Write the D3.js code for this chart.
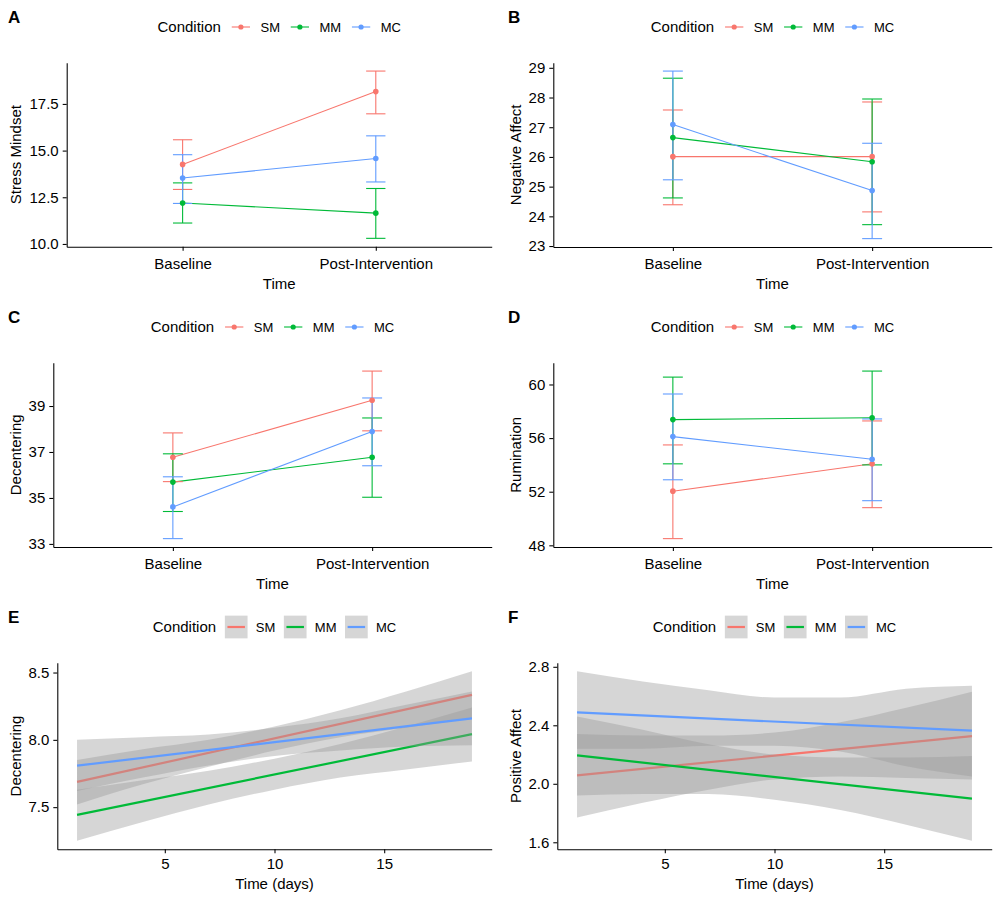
<!DOCTYPE html>
<html><head><meta charset="utf-8">
<script src="https://cdn.jsdelivr.net/npm/d3@7"></script>
<style>
body{margin:0;background:#fff}
text{font-family:"Liberation Sans",Arial,Helvetica,sans-serif;fill:#000}
</style>
</head><body>
<svg id="chart" width="1000" height="900"></svg>
<script>
// ---------------- DATA ----------------
const conditions = ["SM", "MM", "MC"];
const timeLabels = ["Baseline", "Post-Intervention"];

// Panel A: Stress Mindset (rows: SM, MM, MC; cols: Baseline, Post)
const stressMean  = [[14.26, 18.16], [12.19, 11.65], [13.53, 14.58]];
const stressLower = [[12.92, 16.97], [11.12, 10.30], [12.17, 13.32]];
const stressUpper = [[15.58, 19.26], [13.27, 12.97], [14.78, 15.79]];
const stressTicks = [10, 12.5, 15, 17.5];

// Panel B: Negative Affect
const negMean  = [[26.01, 26.01], [26.65, 25.84], [27.09, 24.87]];
const negLower = [[24.39, 24.15], [24.62, 23.72], [25.23, 23.25]];
const negUpper = [[27.58, 27.85], [28.65, 27.95], [28.89, 26.46]];
const negTicks = [23, 24, 25, 26, 27, 28, 29];

// Panel C: Decentering
const decMean  = [[36.77, 39.25], [35.69, 36.77], [34.61, 37.89]];
const decLower = [[35.71, 37.92], [34.41, 35.03], [33.23, 36.40]];
const decUpper = [[37.83, 40.52], [36.92, 38.48], [35.92, 39.35]];
const decTicks = [33, 35, 37, 39];

// Panel D: Rumination
const rumMean  = [[52.04, 54.08], [57.38, 57.52], [56.11, 54.42]];
const rumLower = [[48.50, 50.81], [54.08, 54.00], [52.89, 51.33]];
const rumUpper = [[55.49, 57.28], [60.55, 61.00], [59.29, 57.43]];
const rumTicks = [48, 52, 56, 60];

// Panels E/F: daily trajectories
const lineDays = [1, 19];
const ribbonDays = [1, 4, 7, 10, 13, 16, 19];
const dayTicks = [5, 10, 15];

// E: Decentering (daily)
const eLine  = [[7.688, 8.334], [7.443, 8.042], [7.808, 8.159]];
const eLower = [[7.52, 7.67, 7.80, 7.92, 8.02, 8.09, 8.16],
                [7.25, 7.39, 7.52, 7.63, 7.72, 7.78, 7.84],
                [7.62, 7.72, 7.81, 7.88, 7.92, 7.95, 7.96]];
const eUpper = [[7.85, 7.93, 8.00, 8.10, 8.22, 8.36, 8.51],
                [7.63, 7.70, 7.77, 7.86, 7.97, 8.10, 8.24],
                [8.00, 8.02, 8.04, 8.09, 8.16, 8.26, 8.36]];
const eTicks = [7.5, 8.0, 8.5];

// F: Positive Affect (daily)
const fLine  = [[2.058, 2.326], [2.194, 1.898], [2.488, 2.363]];
const fLower = [[1.77, 1.87, 1.96, 2.03, 2.05, 2.04, 2.03],
                [1.92, 1.93, 1.93, 1.89, 1.82, 1.72, 1.61],
                [2.24, 2.24, 2.26, 2.26, 2.22, 2.12, 2.05]];
const fUpper = [[2.34, 2.33, 2.33, 2.35, 2.42, 2.52, 2.63],
                [2.46, 2.37, 2.27, 2.20, 2.18, 2.18, 2.19],
                [2.77, 2.70, 2.64, 2.59, 2.59, 2.65, 2.67]];
const fTicks = [1.6, 2.0, 2.4, 2.8];

// ---------------- STYLE ----------------
const palette = ["#F8766D", "#00BA38", "#619CFF"];
const FS = 15;          // axis text & titles
const FS_LEG = 13;      // legend labels
const svg = d3.select("#chart");

function expand(vals) {
  const [a, b] = d3.extent(vals);
  const p = (b - a) * 0.05;
  return [a - p, b + p];
}

function drawLegend(g, cx, cy, kind) {
  const lg = g.append("g");
  let x = 0;
  const t = lg.append("text").attr("x", x).attr("y", cy).attr("dy", "0.35em")
    .style("font-size", FS + "px").text("Condition");
  x += t.node().getComputedTextLength() + 8.7;
  const K = 22.7;
  conditions.forEach((c, i) => {
    if (kind === "ribbon") {
      lg.append("rect").attr("x", x).attr("y", cy - K / 2).attr("width", K).attr("height", K)
        .attr("fill", "#999999").attr("fill-opacity", 0.4);
      lg.append("line").attr("x1", x + 2.6).attr("x2", x + K - 2.6).attr("y1", cy).attr("y2", cy)
        .attr("stroke", palette[i]).attr("stroke-width", 2.2);
    } else {
      lg.append("line").attr("x1", x + 2.2).attr("x2", x + K - 2.2).attr("y1", cy).attr("y2", cy)
        .attr("stroke", palette[i]).attr("stroke-width", 1.1);
      lg.append("circle").attr("cx", x + K / 2).attr("cy", cy).attr("r", 2.6).attr("fill", palette[i]);
    }
    x += K + 8.3;
    const lt = lg.append("text").attr("x", x).attr("y", cy).attr("dy", "0.35em")
      .style("font-size", FS_LEG + "px").text(c);
    x += lt.node().getComputedTextLength() + 8.5;
  });
  const total = x - 8.5;
  lg.attr("transform", `translate(${cx - total / 2},0)`);
}

function styleAxis(ag) {
  ag.select(".domain").attr("stroke", "#000").attr("stroke-width", 1.07);
  ag.selectAll(".tick line").attr("stroke", "#000").attr("stroke-width", 1.07);
  ag.selectAll(".tick text").style("font-size", FS + "px").attr("fill", "#000")
    .style("font-family", '"Liberation Sans",Arial,sans-serif');
}

function frame(p) {
  const g = svg.append("g").attr("transform", `translate(${p.ox},${p.oy})`);
  g.append("text").attr("x", 8).attr("y", 23).style("font-size", "17px")
    .style("font-weight", "bold").text(p.tag);
  const right = 491.7;
  drawLegend(g, (p.left + right) / 2, 27, p.kind);
  // y-axis title
  g.append("text").attr("transform", `translate(21,${(p.top + p.bottom) / 2}) rotate(-90)`)
    .attr("text-anchor", "middle").style("font-size", FS + "px").text(p.ylab);
  // x-axis title
  g.append("text").attr("x", (p.left + right) / 2).attr("y", 288.7)
    .attr("text-anchor", "middle").style("font-size", FS + "px").text(p.xlab);
  return {g, right};
}

function drawAxes(g, x, y, p, yTicks, yFmt, xTicks) {
  const pad = 269.3 - p.bottom - 0.71 * FS - 4;
  const xa = d3.axisBottom(x).tickSize(4).tickSizeOuter(0).tickPadding(pad);
  if (xTicks) xa.tickValues(xTicks).tickFormat(d3.format("d"));
  const xg = g.append("g").attr("transform", `translate(0,${p.bottom})`).call(xa);
  styleAxis(xg);
  const ya = d3.axisLeft(y).tickValues(yTicks).tickFormat(d3.format(yFmt))
    .tickSize(4).tickSizeOuter(0).tickPadding(4);
  const yg = g.append("g").attr("transform", `translate(${p.left},0)`).call(ya);
  styleAxis(yg);
}

// ---------- Panels A-D: means with error bars ----------
function meanPanel(p) {
  const {g, right} = frame(p);
  const x = d3.scalePoint().domain(timeLabels).range([p.left, right]).padding(0.6);
  const y = d3.scaleLinear().domain(expand(p.lower.flat().concat(p.upper.flat())))
    .range([p.bottom, p.top]);
  const cap = x.step() * 0.05;
  const lineGen = d3.line().x((d, j) => x(timeLabels[j])).y(d => y(d));
  conditions.forEach((c, i) => {
    g.append("path").datum(p.mean[i]).attr("d", lineGen).attr("fill", "none")
      .attr("stroke", palette[i]).attr("stroke-width", 1.1);
  });
  conditions.forEach((c, i) => {
    timeLabels.forEach((t, j) => {
      const cx = x(t), lo = y(p.lower[i][j]), hi = y(p.upper[i][j]);
      const eb = g.append("g").attr("stroke", palette[i]).attr("stroke-width", 1.1);
      eb.append("line").attr("x1", cx).attr("x2", cx).attr("y1", lo).attr("y2", hi);
      eb.append("line").attr("x1", cx - cap).attr("x2", cx + cap).attr("y1", lo).attr("y2", lo);
      eb.append("line").attr("x1", cx - cap).attr("x2", cx + cap).attr("y1", hi).attr("y2", hi);
    });
  });
  conditions.forEach((c, i) => {
    g.selectAll(null).data(p.mean[i]).enter().append("circle")
      .attr("cx", (d, j) => x(timeLabels[j])).attr("cy", d => y(d)).attr("r", 2.8)
      .attr("fill", palette[i]);
  });
  drawAxes(g, x, y, p, p.ticks, p.fmt, null);
}

// ---------- Panels E-F: trajectories with ribbons ----------
function trendPanel(p) {
  const {g, right} = frame(p);
  const x = d3.scaleLinear().domain(expand(ribbonDays)).range([p.left, right]);
  const y = d3.scaleLinear().domain(expand(p.lower.flat().concat(p.upper.flat())))
    .range([p.bottom, p.top]);
  const area = d3.area().curve(d3.curveMonotoneX)
    .x(d => x(d.day)).y0(d => y(d.lo)).y1(d => y(d.hi));
  const line = d3.line().x((d, j) => x(lineDays[j])).y(d => y(d));
  conditions.forEach((c, i) => {
    const rib = ribbonDays.map((dday, j) => ({day: dday, lo: p.lower[i][j], hi: p.upper[i][j]}));
    g.append("path").datum(rib).attr("d", area).attr("fill", "#999999").attr("fill-opacity", 0.4);
    g.append("path").datum(p.line[i]).attr("d", line).attr("fill", "none")
      .attr("stroke", palette[i]).attr("stroke-width", 2.2);
  });
  drawAxes(g, x, y, p, p.ticks, p.fmt, dayTicks);
}

meanPanel({tag: "A", ox: 0, oy: 0, left: 66.7, top: 62.7, bottom: 246.7, kind: "point",
  ylab: "Stress Mindset", xlab: "Time", mean: stressMean, lower: stressLower, upper: stressUpper,
  ticks: stressTicks, fmt: ".1f"});
meanPanel({tag: "B", ox: 500, oy: 0, left: 53.3, top: 62.7, bottom: 247, kind: "point",
  ylab: "Negative Affect", xlab: "Time", mean: negMean, lower: negLower, upper: negUpper,
  ticks: negTicks, fmt: "d"});
meanPanel({tag: "C", ox: 0, oy: 300, left: 53.3, top: 62.7, bottom: 247, kind: "point",
  ylab: "Decentering", xlab: "Time", mean: decMean, lower: decLower, upper: decUpper,
  ticks: decTicks, fmt: "d"});
meanPanel({tag: "D", ox: 500, oy: 300, left: 53.3, top: 62.7, bottom: 247, kind: "point",
  ylab: "Rumination", xlab: "Time", mean: rumMean, lower: rumLower, upper: rumUpper,
  ticks: rumTicks, fmt: "d"});
trendPanel({tag: "E", ox: 0, oy: 600, left: 57.3, top: 62.7, bottom: 249.3, kind: "ribbon",
  ylab: "Decentering", xlab: "Time (days)", line: eLine, lower: eLower, upper: eUpper,
  ticks: eTicks, fmt: ".1f"});
trendPanel({tag: "F", ox: 500, oy: 600, left: 57.3, top: 62.7, bottom: 249.3, kind: "ribbon",
  ylab: "Positive Affect", xlab: "Time (days)", line: fLine, lower: fLower, upper: fUpper,
  ticks: fTicks, fmt: ".1f"});
</script>
</body></html>
